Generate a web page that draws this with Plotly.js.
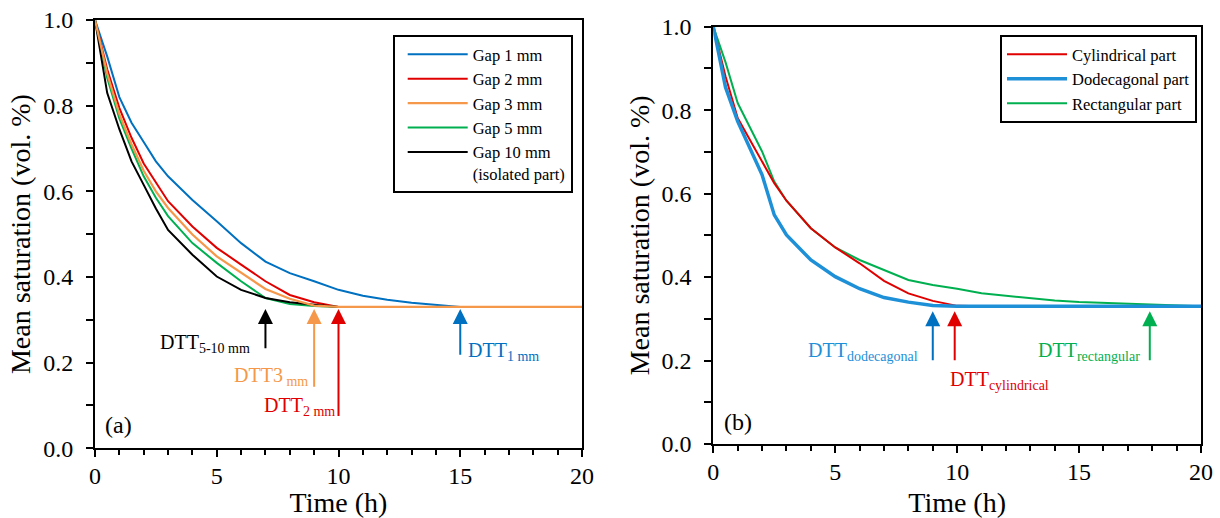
<!DOCTYPE html>
<html><head><meta charset="utf-8">
<script src="https://cdn.plot.ly/plotly-3.0.1.min.js"></script>
<style>html,body{margin:0;padding:0;background:#fff}#chart{width:1220px;height:518px}</style>
</head><body><div id="chart"></div>
<script>
// ---- data: panel (a) ----
const timeA = [0,0.5,1,1.5,2,2.5,3,4,5,6,7,8,9,10,11,12,13,14,15,16,17,18,19,20];
const gap1  = [1,0.915,0.82,0.76,0.715,0.67,0.635,0.58,0.53,0.479,0.436,0.409,0.39,0.37,0.356,0.347,0.34,0.335,0.33,0.33,0.33,0.33,0.33,0.33];
const gap2  = [1,0.885,0.795,0.725,0.665,0.62,0.577,0.518,0.468,0.429,0.39,0.358,0.341,0.33,0.33,0.33,0.33,0.33,0.33,0.33,0.33,0.33,0.33,0.33];
const gap3  = [1,0.875,0.78,0.71,0.648,0.6,0.561,0.499,0.448,0.409,0.372,0.349,0.333,0.33,0.33,0.33,0.33,0.33,0.33,0.33,0.33,0.33,0.33,0.33];
const gap5  = [1,0.865,0.77,0.7,0.635,0.585,0.542,0.479,0.433,0.39,0.351,0.337,0.332,0.33,0.33,0.33,0.33,0.33,0.33,0.33,0.33,0.33,0.33,0.33];
const gap10 = [1,0.83,0.745,0.67,0.615,0.56,0.51,0.452,0.401,0.37,0.351,0.341,0.335,0.33,0.33,0.33,0.33,0.33,0.33,0.33,0.33,0.33,0.33,0.33];
const seriesNamesA = ["Gap 1 mm","Gap 2 mm","Gap 3 mm","Gap 5 mm","Gap 10 mm<br>(isolated part)"];
const dttTimesA = [7, 9, 10, 15];
const dttLabelsA = ["DTT<sub>5-10 mm</sub>","DTT3<sub> mm</sub>","DTT<sub>2 mm</sub>","DTT<sub>1 mm</sub>"];

// ---- data: panel (b) ----
const timeB = [0,0.5,1,1.5,2,2.5,3,4,5,6,7,8,9,10,11,12,13,14,15,16,17,18,19,20];
const cylindrical = [1,0.881,0.781,0.729,0.677,0.625,0.583,0.517,0.471,0.433,0.391,0.361,0.343,0.331,0.33,0.33,0.33,0.33,0.33,0.33,0.33,0.33,0.33,0.33];
const dodecagonal = [1,0.855,0.773,0.709,0.645,0.549,0.501,0.441,0.401,0.372,0.351,0.34,0.332,0.33,0.33,0.33,0.33,0.33,0.33,0.33,0.33,0.33,0.33,0.33];
const rectangular = [1,0.915,0.817,0.757,0.701,0.629,0.583,0.517,0.471,0.441,0.417,0.393,0.381,0.372,0.361,0.355,0.349,0.344,0.34,0.338,0.336,0.334,0.332,0.33];
const seriesNamesB = ["Cylindrical part","Dodecagonal part","Rectangular part"];
const dttTimesB = [9, 9.9, 17.9];
const dttLabelsB = ["DTT<sub>dodecagonal</sub>","DTT<sub>cylindrical</sub>","DTT<sub>rectangular</sub>"];

const FONT = "Liberation Serif, Times New Roman, serif";
const cBlue = "#0070C0", cRed = "#E00000", cOrange = "#F5984A", cGreen = "#00B050", cBlack = "#000000", cLightBlue = "#1E90D8";

function tr(x, y, name, color, width, xa, ya, rank, legend) {
  return {x: x, y: y, name: name, type: "scatter", mode: "lines",
    line: {color: color, width: width}, xaxis: xa, yaxis: ya,
    legendrank: rank, legend: legend, hoverinfo: "skip"};
}

const data = [
  tr(timeA, gap1, seriesNamesA[0], cBlue, 2, "x", "y", 1, "legend"),
  tr(timeA, gap2, seriesNamesA[1], cRed, 2, "x", "y", 2, "legend"),
  tr(timeA, gap5, seriesNamesA[3], cGreen, 2, "x", "y", 4, "legend"),
  tr(timeA, gap10, seriesNamesA[4], cBlack, 2, "x", "y", 5, "legend"),
  tr(timeA, gap3, seriesNamesA[2], cOrange, 2.2, "x", "y", 3, "legend"),
  tr(timeB, rectangular, seriesNamesB[2], cGreen, 2, "x2", "y2", 3, "legend2"),
  tr(timeB, cylindrical, seriesNamesB[0], cRed, 2, "x2", "y2", 1, "legend2"),
  tr(timeB, dodecagonal, seriesNamesB[1], cLightBlue, 3.5, "x2", "y2", 2, "legend2")
];

function xax(domain, anchor) {
  return {domain: domain, anchor: anchor, range: [0, 20], dtick: 5, tick0: 0,
    ticks: "outside", ticklen: 7, tickwidth: 2, tickcolor: "#000",
    showline: true, linewidth: 2, linecolor: "#000", mirror: true,
    showgrid: false, zeroline: false, ticklabelstandoff: -2,
    tickfont: {family: FONT, size: 24, color: "#000"},
    minor: {dtick: 1, ticks: "outside", ticklen: 5, tickwidth: 2, tickcolor: "#000", showgrid: false},
    title: {text: "Time (h)", font: {family: FONT, size: 28, color: "#000"}, standoff: 11}};
}
function yax(domain, anchor) {
  return {domain: domain, anchor: anchor, range: [0, 1], dtick: 0.2, tick0: 0, tickformat: ".1f",
    ticks: "outside", ticklen: 7, tickwidth: 2, tickcolor: "#000",
    showline: true, linewidth: 2, linecolor: "#000", mirror: true,
    showgrid: false, zeroline: false, ticklabelstandoff: 8,
    tickfont: {family: FONT, size: 24, color: "#000"},
    minor: {dtick: 0.1, ticks: "outside", ticklen: 7, tickwidth: 2, tickcolor: "#000", showgrid: false},
    title: {text: "Mean saturation (vol. %)", font: {family: FONT, size: 28, color: "#000"}, standoff: 4}};
}

const annotations = [];
// panel (a) arrows
const arrowColorsA = [cBlack, cOrange, cRed, cBlue];
const arrowTailsA = [0.23, 0.14, 0.072, 0.215];
dttTimesA.forEach(function (t, i) {
  annotations.push({xref: "x", yref: "y", axref: "x", ayref: "y", x: t, y: 0.325, ax: t, ay: arrowTailsA[i],
    text: "", showarrow: true, arrowhead: 2, arrowsize: 1.5, arrowwidth: 2, arrowcolor: arrowColorsA[i], standoff: 0});
});
const labelPosA = [[6.45, 0.245, "right", cBlack], [8.83, 0.167, "right", cOrange], [9.95, 0.097, "right", cRed], [15.25, 0.226, "left", cBlue]];
dttLabelsA.forEach(function (s, i) {
  const p = labelPosA[i];
  annotations.push({xref: "x", yref: "y", x: p[0], y: p[1], xanchor: p[2], yanchor: "middle", text: s, showarrow: false,
    font: {family: FONT, size: 20, color: p[3]}});
});
// panel (b) arrows
const arrowColorsB = [cBlue, cRed, cGreen];
dttTimesB.forEach(function (t, i) {
  annotations.push({xref: "x2", yref: "y2", axref: "x2", ayref: "y2", x: t, y: 0.318, ax: t, ay: 0.197,
    text: "", showarrow: true, arrowhead: 2, arrowsize: 1.5, arrowwidth: 2, arrowcolor: arrowColorsB[i], standoff: 0});
});
const labelPosB = [[8.47, 0.221, "right", cLightBlue], [9.63, 0.153, "left", cRed], [17.6, 0.221, "right", cGreen]];
dttLabelsB.forEach(function (s, i) {
  const p = labelPosB[i];
  annotations.push({xref: "x2", yref: "y2", x: p[0], y: p[1], xanchor: p[2], yanchor: "middle", text: s, showarrow: false,
    font: {family: FONT, size: 20, color: p[3]}});
});
annotations.push({xref: "x", yref: "y", x: 0.33, y: 0.054, xanchor: "left", yanchor: "middle", text: "(a)", showarrow: false,
  font: {family: FONT, size: 24, color: "#000"}});
annotations.push({xref: "x2", yref: "y2", x: 0.34, y: 0.053, xanchor: "left", yanchor: "middle", text: "(b)", showarrow: false,
  font: {family: FONT, size: 24, color: "#000"}});

const W = 1220, H = 518;
const layout = {
  width: W, height: H, margin: {l: 0, r: 0, t: 0, b: 0},
  paper_bgcolor: "#fff", plot_bgcolor: "#fff",
  font: {family: FONT, color: "#000"},
  showlegend: true,
  xaxis: xax([95 / W, 582 / W], "y"),
  yaxis: yax([(H - 448.3) / H, (H - 20) / H], "x"),
  xaxis2: xax([713.3 / W, 1201 / W], "y2"),
  yaxis2: yax([(H - 444) / H, (H - 26.7) / H], "x2"),
  legend: {x: 392.7 / W, y: (H - 35) / H, xanchor: "left", yanchor: "top", bgcolor: "#fff",
    bordercolor: "#000", borderwidth: 2, font: {family: FONT, size: 16.5, color: "#000"},
    itemwidth: 60, indentation: 8, valign: "top", traceorder: "normal"},
  legend2: {x: 1000 / W, y: (H - 35) / H, xanchor: "left", yanchor: "top", bgcolor: "#fff",
    bordercolor: "#000", borderwidth: 2, font: {family: FONT, size: 16.5, color: "#000"},
    itemwidth: 60, valign: "top", traceorder: "normal"},
  annotations: annotations
};

Plotly.newPlot("chart", data, layout, {staticPlot: true, displayModeBar: false});
</script>
</body></html>
